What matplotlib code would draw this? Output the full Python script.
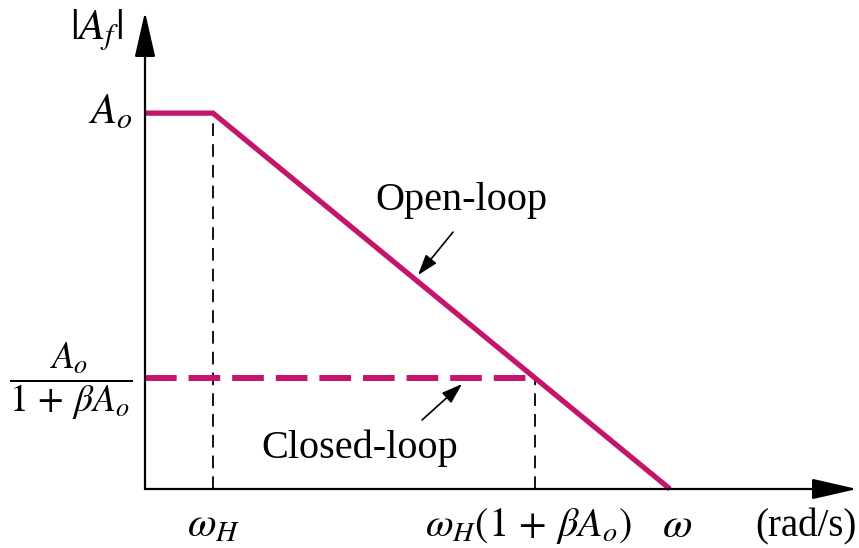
import matplotlib
matplotlib.use("Agg")
import matplotlib.pyplot as plt

matplotlib.rcParams.update({
    "font.family": "Liberation Serif",
    "mathtext.fontset": "stix",
    "font.size": 28,
})

# break frequency scaled to 1, gain scaled to A_o = 1
open_w = [0.0, 1.0, 7.72]
open_gain = [1.0, 1.0, 0.0]
closed_w = [0.0, 5.74]
closed_gain = [0.295, 0.295]
w_max = 10.47
gain_max = 1.269

MAGENTA = "#C4156C"

fig = plt.figure(figsize=(8.59, 5.48), dpi=100)
ax = fig.add_axes([145 / 859, 59 / 548, 712 / 859, 477 / 548])
ax.set_xlim(0, w_max)
ax.set_ylim(0, gain_max)
ax.axis("off")

# axes with arrow heads
arrow_kw = dict(arrowstyle="-|>,head_length=1.4,head_width=0.32",
                color="black", lw=1.6, mutation_scale=20, shrinkA=0, shrinkB=0)
ax.annotate("", xy=(1.0, 0), xytext=(0, 0), xycoords="axes fraction",
            arrowprops=arrow_kw, annotation_clip=False)
ax.annotate("", xy=(0, 1.0), xytext=(0, 0), xycoords="axes fraction",
            arrowprops=arrow_kw, annotation_clip=False)

# guide lines at the two corner frequencies
ax.plot([open_w[1], open_w[1]], [0, open_gain[1]], color="black", lw=1.3,
        dashes=[7, 4.5], clip_on=False)
ax.plot([closed_w[1], closed_w[1]], [0, closed_gain[1]], color="black", lw=1.3,
        dashes=[7, 4.5], clip_on=False)

# responses
ax.plot(open_w, open_gain, color=MAGENTA, lw=3.8, solid_joinstyle="miter",
        solid_capstyle="butt", clip_on=False)
ax.plot(closed_w, closed_gain, color=MAGENTA, lw=4.3, dashes=[5.3, 2.0],
        dash_capstyle="butt", clip_on=False)

# axis labels
ax.annotate(r"$|A_f|$", xy=(0, gain_max), xytext=(-35, -13), textcoords="offset points",
            ha="center", va="center", fontsize=31, annotation_clip=False)
ax.annotate(r"$A_o$", xy=(0, open_gain[0]), xytext=(-9, 0), textcoords="offset points",
            ha="right", va="center", fontsize=31, annotation_clip=False)
ax.annotate(r"$\dfrac{A_o}{1\,+\,\beta A_o}$", xy=(0, closed_gain[0]), xytext=(-9, -2),
            textcoords="offset points", ha="right", va="center", fontsize=27,
            annotation_clip=False)

ax.annotate(r"$\omega_H$", xy=(open_w[1], 0), xytext=(0, -27), textcoords="offset points",
            ha="center", va="center", fontsize=30, annotation_clip=False)
ax.annotate(r"$\omega_H(1\,+\,\beta A_o)$", xy=(closed_w[1], 0), xytext=(-5, -27),
            textcoords="offset points", ha="center", va="center", fontsize=29,
            annotation_clip=False)
ax.annotate(r"$\omega$", xy=(open_w[2], 0), xytext=(5, -27), textcoords="offset points",
            ha="center", va="center", fontsize=31, annotation_clip=False)
ax.annotate("(rad/s)", xy=(1.0, 0), xycoords="axes fraction", xytext=(-37, -27),
            textcoords="offset points", ha="center", va="center", fontsize=28,
            annotation_clip=False)

# curve callouts
callout_kw = dict(arrowstyle="-|>,head_length=0.9,head_width=0.3",
                  color="black", lw=1.2, mutation_scale=14, shrinkA=0, shrinkB=0)
ax.text((461 - 145) / 68, (489 - 200) / 376, "Open-loop", ha="center", va="center",
        fontsize=29)
ax.annotate("", xy=((418 - 145) / 68, (489 - 275) / 376),
            xytext=((453 - 145) / 68, (489 - 232) / 376), arrowprops=callout_kw)
ax.text((360 - 145) / 68, (489 - 448) / 376, "Closed-loop", ha="center", va="center",
        fontsize=29)
ax.annotate("", xy=((462 - 145) / 68, (489 - 384) / 376),
            xytext=((422 - 145) / 68, (489 - 420) / 376), arrowprops=callout_kw)

fig.savefig("out.png", dpi=100)
